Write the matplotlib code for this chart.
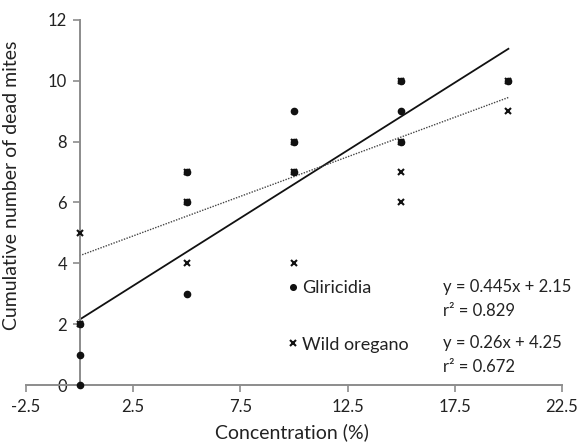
import matplotlib
matplotlib.use("Agg")
import matplotlib.pyplot as plt
import numpy as np

plt.rcParams['font.family'] = ['Lato', 'DejaVu Sans']

# data
gliricidia_x = [0, 0, 0, 5, 5, 5, 10, 10, 10, 15, 15, 15, 20]
gliricidia_y = [0, 1, 2, 3, 6, 7, 7, 8, 9, 8, 9, 10, 10]
oregano_x = [0, 0, 5, 5, 5, 10, 10, 10, 15, 15, 15, 15, 20, 20]
oregano_y = [2, 5, 4, 6, 7, 4, 7, 8, 6, 7, 8, 10, 9, 10]

# trendline coefficients (from the chart annotation)
glir_slope, glir_icpt, glir_r2 = 0.445, 2.15, 0.829
oreg_slope, oreg_icpt, oreg_r2 = 0.26, 4.25, 0.672

x_ticks = [-2.5, 2.5, 7.5, 12.5, 17.5, 22.5]
y_ticks = [0, 2, 4, 6, 8, 10, 12]

fig = plt.figure(figsize=(5.77, 4.48), dpi=100)
ax = fig.add_axes([0.045, 0.1406, 0.929, 0.815])

axis_col = '#8c8c8c'
text_col = '#222222'

# trendlines
xl = np.array([0, 20])
ax.plot(xl, glir_slope * xl + glir_icpt, color='#111111', lw=1.3, zorder=2)
ax.plot(xl, oreg_slope * xl + oreg_icpt, color='#444444', lw=1.0,
        linestyle=(0, (1, 1)), zorder=2)

# points
h1, = ax.plot(gliricidia_x, gliricidia_y, 'o', color='#111111', ms=4.5,
              linestyle='none', zorder=3, clip_on=False)
h2, = ax.plot(oregano_x, oregano_y, 'x', color='#111111', ms=5, mew=1.5,
              linestyle='none', zorder=3, clip_on=False)

ax.set_xlim(-2.5, 22.5)
ax.set_ylim(0, 12)
ax.set_xticks(x_ticks)
ax.set_yticks(y_ticks)
ax.set_xticklabels(['-2.5', '2.5', '7.5', '12.5', '17.5', '22.5'])

ax.spines['left'].set_position(('data', 0))
ax.spines['top'].set_visible(False)
ax.spines['right'].set_visible(False)
for s in ['left', 'bottom']:
    ax.spines[s].set_color(axis_col)
    ax.spines[s].set_linewidth(1.4)
ax.tick_params(axis='both', direction='out', length=5, width=1.2,
               color=axis_col, labelsize=12, labelcolor=text_col)
ax.tick_params(axis='y', pad=4)
ax.tick_params(axis='x', pad=5)

fig.text(12 / 577, 1 - 185 / 448, 'Cumulative number of dead mites',
         rotation=90, ha='center', va='center', fontsize=14, color=text_col)
fig.text(292 / 577, 1 - 432 / 448, 'Concentration (%)', ha='center',
         va='center', fontsize=14, color=text_col)

leg = ax.legend([h1, h2], ['Gliricidia', 'Wild oregano'], loc='upper left',
                bbox_to_anchor=((288 - 26) / 536, (385 - 280) / 365),
                frameon=False, fontsize=13, handlelength=0.6,
                handletextpad=0.2, labelspacing=2.25, borderpad=0,
                borderaxespad=0, markerscale=0.9)
for t in leg.get_texts():
    t.set_color(text_col)

ex = (443 - 26) / 536
for y_px, txt in [(287, f'y = {glir_slope}x + {glir_icpt}'),
                  (311, f'r² = {glir_r2}'),
                  (343, f'y = {oreg_slope}x + {oreg_icpt}'),
                  (367, f'r² = {oreg_r2}')]:
    ax.text(ex, (385 - y_px) / 365, txt, transform=ax.transAxes,
            ha='left', va='center', fontsize=12, color=text_col)

fig.savefig('out.png', dpi=100, facecolor='white')
